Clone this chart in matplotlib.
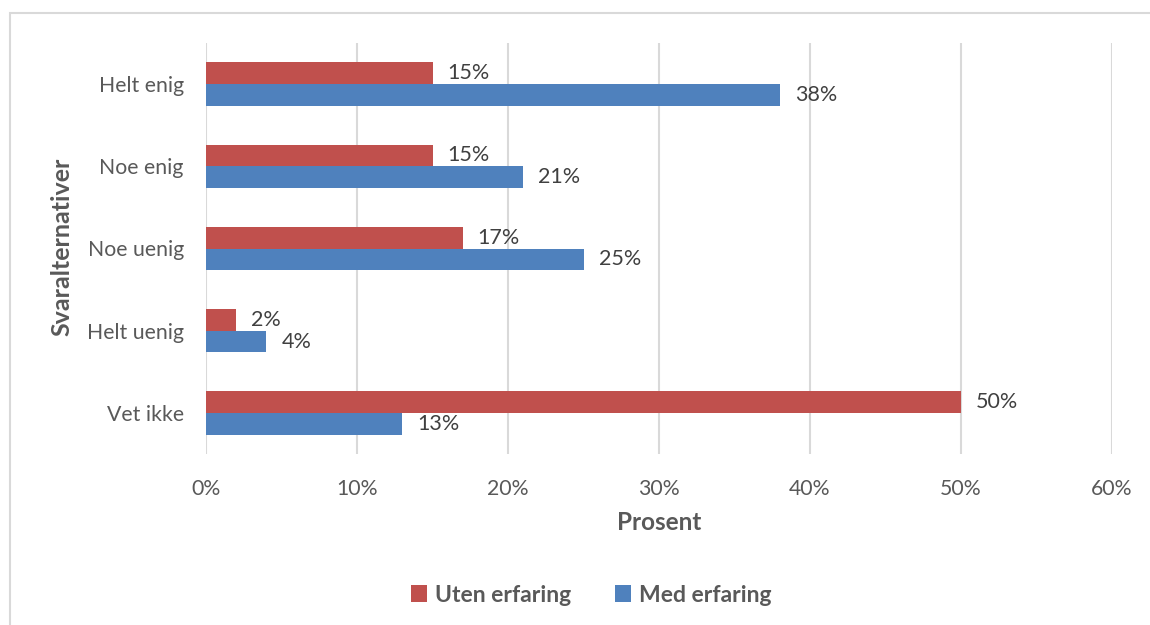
import matplotlib
matplotlib.use("Agg")
import matplotlib.pyplot as plt
from matplotlib.patches import Rectangle

categories = ["Helt enig", "Noe enig", "Noe uenig", "Helt uenig", "Vet ikke"]
uten_erfaring = [15, 15, 17, 2, 50]
med_erfaring = [38, 21, 25, 4, 13]
series_names = ["Uten erfaring", "Med erfaring"]
xticks = [0, 10, 20, 30, 40, 50, 60]

RED = "#C0504D"
BLUE = "#4F81BD"
TXT = "#595959"
plt.rcParams["font.family"] = ["Lato", "DejaVu Sans"]

fig = plt.figure(figsize=(11.5, 6.25), dpi=100)
fig.patches.append(Rectangle((10/1150, -0.1), 1.2, 1 - 13/625 + 0.1, transform=fig.transFigure,
                             fill=False, edgecolor="#D9D9D9", linewidth=1.5))
ax = fig.add_axes([206/1150, 1-454/625, (1112-206)/1150, (454-43)/625])

y = list(range(len(categories)))
h = 0.265
yr = [v - h/2 for v in y]
yb = [v + h/2 for v in y]
ax.barh(yr, uten_erfaring, height=h, color=RED, label=series_names[0], zorder=3)
ax.barh(yb, med_erfaring, height=h, color=BLUE, label=series_names[1], zorder=3)

for yy, v in zip(yr, uten_erfaring):
    ax.annotate(f"{v}%", (v, yy), xytext=(15, 0), textcoords="offset pixels",
                va="center", ha="left", fontsize=15.5, color="#404040")
for yy, v in zip(yb, med_erfaring):
    ax.annotate(f"{v}%", (v, yy), xytext=(15, 0), textcoords="offset pixels",
                va="center", ha="left", fontsize=15.5, color="#404040")

ax.set_ylim(len(categories) - 0.5, -0.5)
ax.set_xlim(0, 60)
ax.set_yticks(y)
ax.set_yticklabels(categories, fontsize=15.3, color=TXT)
ax.set_xticks(xticks)
ax.set_xticklabels([f"{t}%" for t in xticks], fontsize=15.3, color=TXT)
ax.tick_params(axis="both", length=0)
ax.tick_params(axis="y", pad=16)
ax.tick_params(axis="x", pad=18)
ax.grid(axis="x", color="#D9D9D9", linewidth=1.5, zorder=0)
for s in ax.spines.values():
    s.set_visible(False)

ax.set_xlabel("Prosent", fontsize=17.5, fontweight="bold", color=TXT, labelpad=9)
fig.text(62/1150, 1-247/625, "Svaralternativer", rotation=90, fontsize=18, fontweight="bold",
         color=TXT, ha="center", va="center")

leg = fig.legend(loc="center", bbox_to_anchor=(591/1150, 1-595/625), ncol=2, frameon=False,
                 prop={"size": 16.5, "weight": "bold"}, handlelength=0.7, handleheight=0.7,
                 columnspacing=1.9, handletextpad=0.35)
for t in leg.get_texts():
    t.set_color(TXT)

fig.savefig("out.png", dpi=100)
